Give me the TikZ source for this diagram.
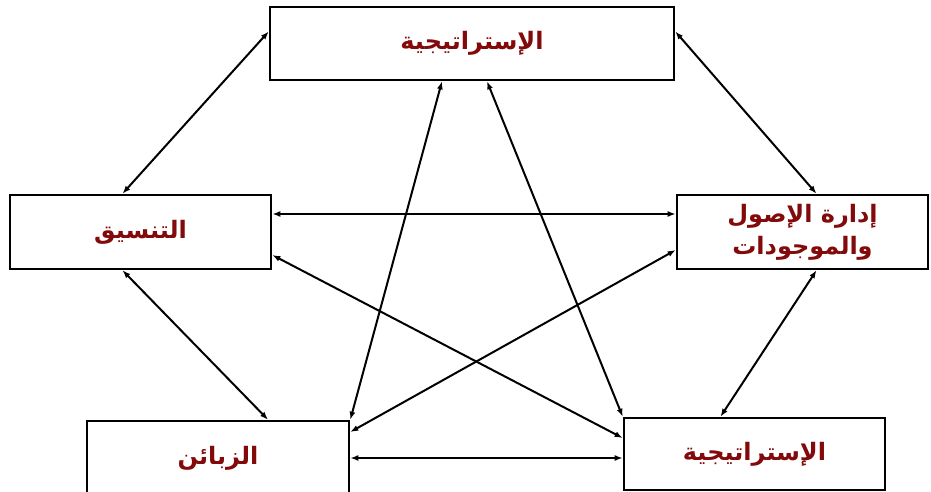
\documentclass[tikz,border=0pt]{standalone}
\usepackage{fontspec}
\newfontfamily\arabicfont[Script=Arabic]{DejaVu Sans}
\TeXXeTstate=1
\usepackage{tikz}
\usetikzlibrary{arrows.meta}
\definecolor{txtred}{RGB}{130,10,10}

\begin{document}
\begin{tikzpicture}[x=1pt,y=-1pt,
  box/.style={draw,line width=2.6pt,inner sep=0pt,align=center,
    font=\arabicfont\bfseries\fontsize{24}{32}\selectfont,text=txtred},
  link/.style={line width=2pt,{Latex[length=8pt,width=6pt]}-{Latex[length=8pt,width=6pt]}}]
\clip (0,0) rectangle (931,492);
\node[box,minimum width=404pt,minimum height=73pt] (strat) at (472,43.5) {\beginR الإستراتيجية\endR};
\node[box,minimum width=261pt,minimum height=74pt] (tans) at (140.5,232) {\beginR التنسيق\endR};
\node[box,minimum width=251pt,minimum height=74pt] (usul) at (802.5,232) {\beginR إدارة الإصول\endR\\\beginR والموجودات\endR};
\node[box,minimum width=262pt,minimum height=74pt] (zab) at (218,458) {\beginR الزبائن\endR};
\node[box,minimum width=261pt,minimum height=72pt] (strtb) at (754.5,454) {\beginR الإستراتيجية\endR};
\draw[link] ([yshift=12pt]strat.west) -- ([xshift=-18pt]tans.north);
\draw[link] ([yshift=12pt]strat.east) -- ([xshift=14pt]usul.north);
\draw[link] ([xshift=-30pt]strat.south) -- (zab.north east);
\draw[link] ([xshift=15pt]strat.south) -- (strtb.north west);
\draw[link] ([yshift=18pt]tans.east) -- ([yshift=18pt]usul.west);
\draw[link] ([yshift=-23pt]tans.east) -- ([yshift=16pt]strtb.west);
\draw[link] ([yshift=-18pt]usul.west) -- ([yshift=26pt]zab.east);
\draw[link] ([xshift=-18pt]tans.south) -- ([xshift=50pt]zab.north);
\draw[link] ([xshift=14pt]usul.south) -- ([xshift=-34pt]strtb.north);
\draw[link] (zab.east) -- ([yshift=-4pt]strtb.west);
\end{tikzpicture}
\end{document}
